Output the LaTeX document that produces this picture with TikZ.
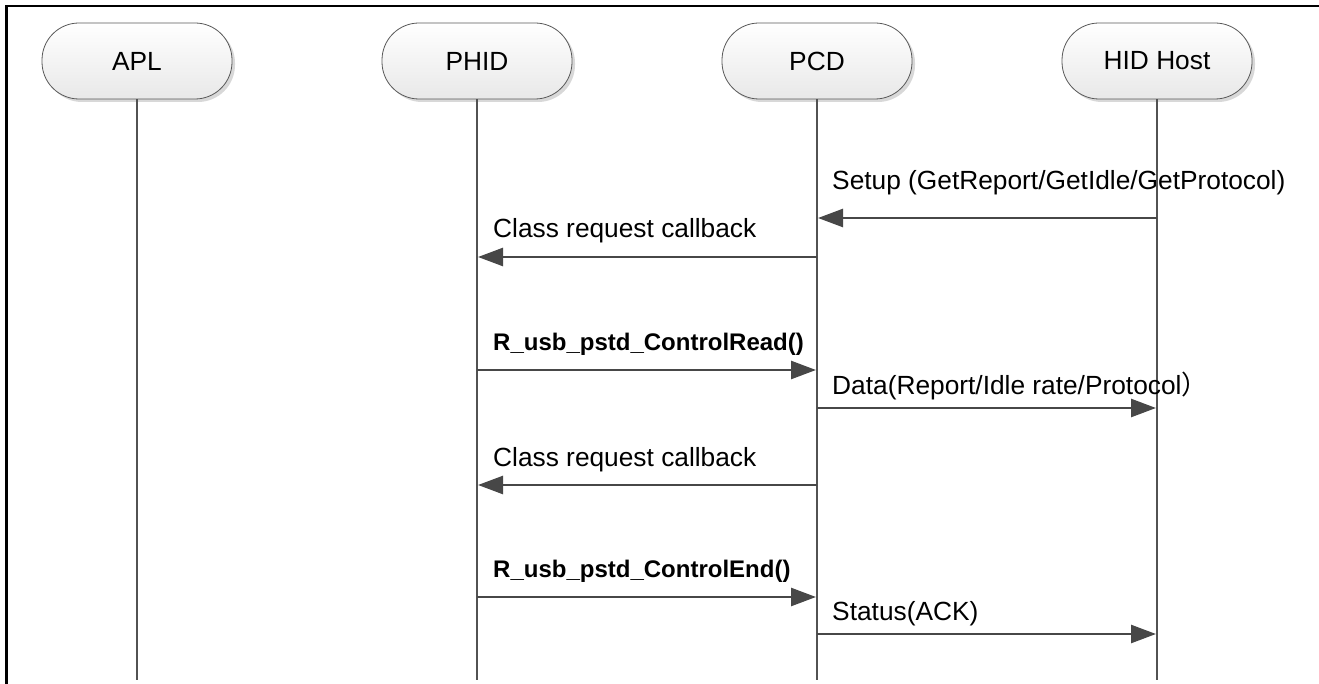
\documentclass[tikz,border=0pt]{standalone}
\usepackage{fontspec}
\setmainfont{Liberation Sans}
\newfontfamily\cjk{Noto Sans CJK SC}
\usetikzlibrary{arrows.meta,shadows}
\begin{document}
\begin{tikzpicture}[x=1pt,y=-1pt,
  actor/.style={draw=black!65, line width=0.8pt, rounded corners=37pt,
    minimum width=190pt, minimum height=76pt, top color=white, bottom color=black!9,
    drop shadow={shadow xshift=3pt, shadow yshift=-3pt, fill=black!30, opacity=0.5},
    font=\fontsize{26.3}{30}\selectfont, inner sep=0pt},
  life/.style={draw=black!68, line width=2.8pt},
  msg/.style={draw=black!72, line width=2.5pt, shorten >=1pt, -{Triangle[length=25pt,width=18pt]}},
  lbl/.style={anchor=base west, inner sep=0pt, font=\fontsize{26.3}{30}\selectfont},
  blbl/.style={anchor=base west, inner sep=0pt, font=\fontsize{24}{28}\selectfont\bfseries},
  frame/.style={draw=black, line width=2.5pt}
]
\useasboundingbox (0,0) rectangle (1319,684);
% frame
\coordinate (fbl) at (6.5,684);
\coordinate (ftl) at (6.5,6);
\coordinate (ftr) at (1319,6);
\draw[frame] (fbl) -- (ftl) -- (ftr);

% actors
\node[actor] (apl)  at (137,61)  {APL};
\node[actor] (phid) at (477,61)  {PHID};
\node[actor] (pcd)  at (817,61)  {PCD};
\node[actor] (host) at (1157,61) {HID Host};

% lifeline ends
\coordinate (aplb)  at (137,680);
\coordinate (phidb) at (477,680);
\coordinate (pcdb)  at (817,680);
\coordinate (hostb) at (1157,680);
\draw[life] (apl.south)  -- (aplb);
\draw[life] (phid.south) -- (phidb);
\draw[life] (pcd.south)  -- (pcdb);
\draw[life] (host.south) -- (hostb);

% messages
\draw[msg] (host.center |- 0,218) -- (pcd.center |- 0,218);
\node[lbl] (m1) at (832,190) {Setup (GetReport/GetIdle/GetProtocol)};

\draw[msg] (pcd.center |- 0,257) -- (phid.center |- 0,257);
\node[lbl] (m2) at (493,238) {Class request callback};

\draw[msg] (phid.center |- 0,370) -- (pcd.center |- 0,370);
\node[blbl] (m3) at (493,351) {R\_usb\_pstd\_ControlRead()};

\draw[msg] (pcd.center |- 0,408) -- (host.center |- 0,408);
\node[lbl] (m4) at (832,394) {Data(Report/Idle rate/Protocol{\cjk ）}};

\draw[msg] (pcd.center |- 0,485) -- (phid.center |- 0,485);
\node[lbl] (m5) at (493,466) {Class request callback};

\draw[msg] (phid.center |- 0,597) -- (pcd.center |- 0,597);
\node[blbl] (m6) at (493,577) {R\_usb\_pstd\_ControlEnd()};

\draw[msg] (pcd.center |- 0,634) -- (host.center |- 0,634);
\node[lbl] (m7) at (832,620) {Status(ACK)};
\end{tikzpicture}
\end{document}
